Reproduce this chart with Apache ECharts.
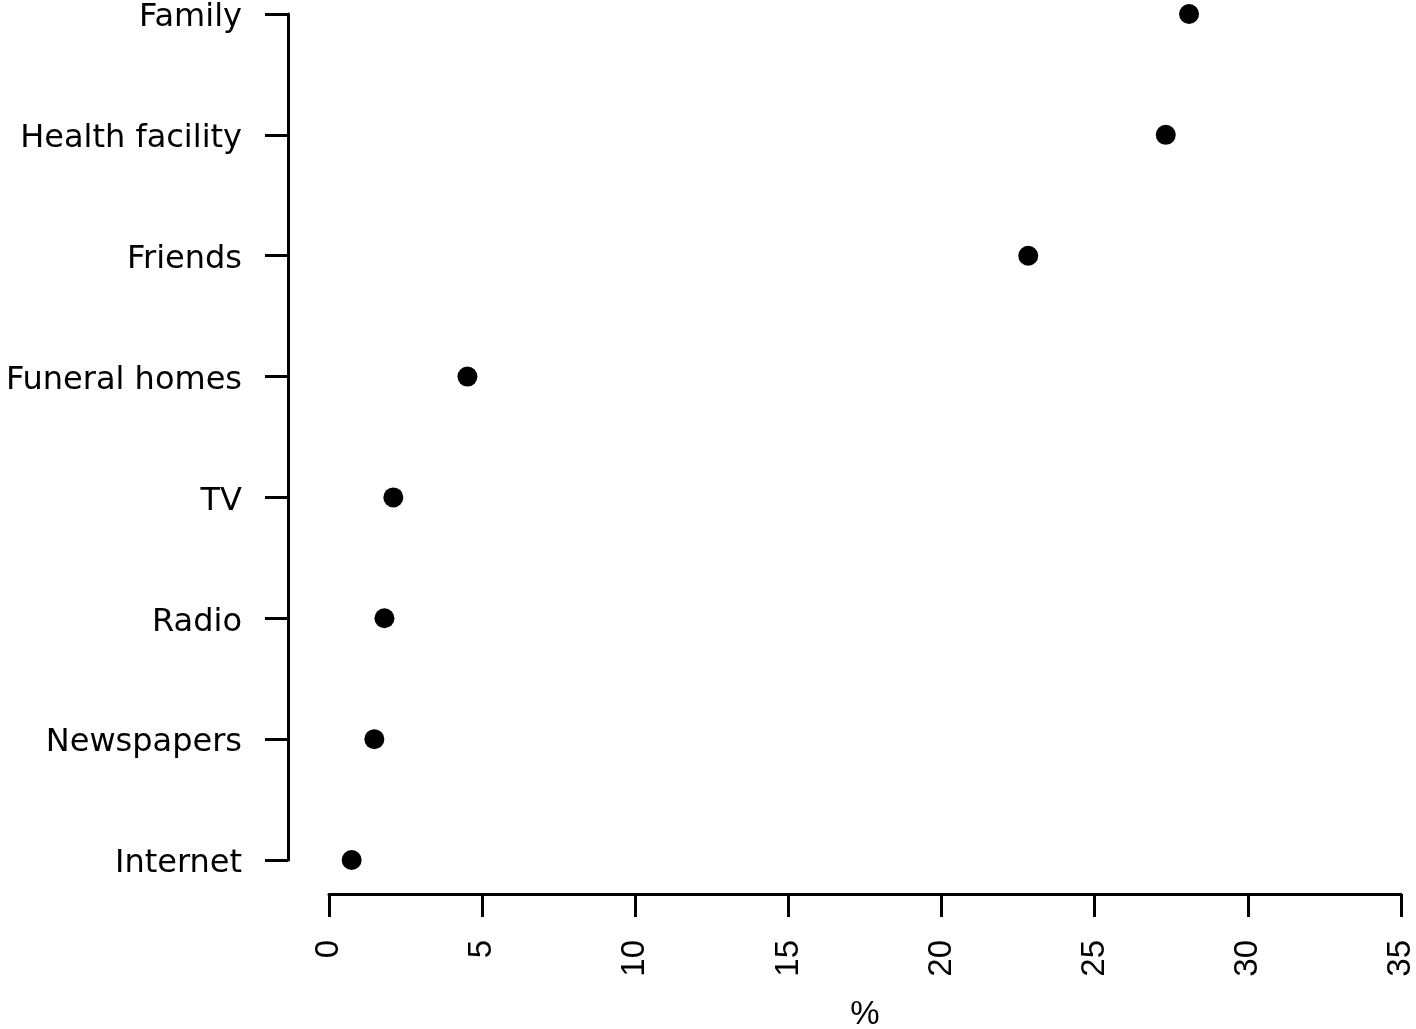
<!DOCTYPE html>
<html><head><meta charset="utf-8">
<script src="https://cdn.jsdelivr.net/npm/echarts@6/dist/echarts.min.js"></script>
<style>html,body{margin:0;padding:0;background:#fff}#c{width:1416px;height:1029px}</style>
</head><body><div id="c"></div>
<script>
const categories = ["Internet","Newspapers","Radio","TV","Funeral homes","Friends","Health facility","Family"];
const percentValues = [0.74,1.48,1.81,2.10,4.52,22.83,27.32,28.08];
const xTicks = {min:0,max:35,interval:5};

const chart = echarts.init(document.getElementById('c'));
const fontA = "'Liberation Sans', Arial, sans-serif";
const fontD = "'DejaVu Sans', sans-serif";
chart.setOption({
  animation:false,
  backgroundColor:'#fff',
  grid:{left:329,right:15,top:14,bottom:169,containLabel:false,outerBoundsMode:'none'},
  xAxis:{type:'value',min:xTicks.min,max:xTicks.max,interval:xTicks.interval,offset:34,
    name:'{p|%}',nameLocation:'middle',nameGap:104,
    nameTextStyle:{color:'#000',fontSize:33,fontFamily:fontA,
      rich:{p:{fontSize:33,fontFamily:fontA,color:'#000'}}},
    axisLine:{show:true,onZero:false,lineStyle:{color:'#000',width:3}},
    axisTick:{show:true,length:23,lineStyle:{color:'#000',width:3}},
    axisLabel:{rotate:90,margin:46,color:'#000',fontSize:33,fontFamily:fontA},
    splitLine:{show:false}},
  yAxis:{type:'category',data:categories,boundaryGap:false,offset:41,
    axisLine:{show:true,onZero:false,lineStyle:{color:'#000',width:3}},
    axisTick:{show:true,length:23,alignWithLabel:true,lineStyle:{color:'#000',width:3}},
    axisLabel:{margin:46,color:'#000',fontSize:32,fontFamily:fontD,interval:0,
      formatter:v=>'{a|'+v+'}',
      rich:{a:{fontSize:32,fontFamily:fontD,color:'#000',padding:[8,0,0,0]}}},
    splitLine:{show:false}},
  series:[{type:'scatter',data:percentValues,symbol:'circle',symbolSize:20,
    itemStyle:{color:'#000',opacity:1}}]
});
</script></body></html>
